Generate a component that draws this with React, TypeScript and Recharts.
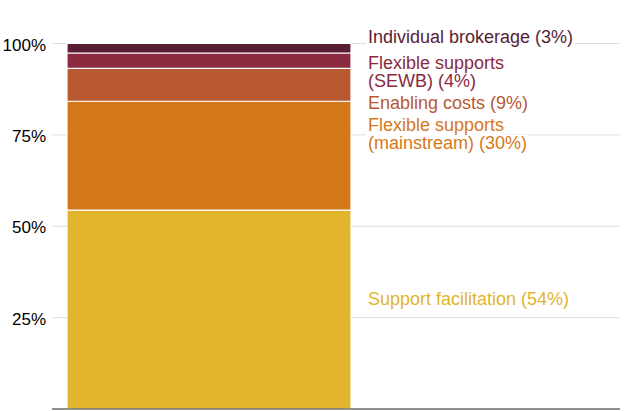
import React from 'react';
import { BarChart, Bar, XAxis, YAxis, CartesianGrid, LabelList } from 'recharts';

const categories = ['Funding'];
const supportFacilitation = [54.4];
const flexibleMainstream = [29.8];
const enablingCosts = [9.0];
const flexibleSewb = [4.2];
const individualBrokerage = [2.6];
const yTicks = [25, 50, 75, 100];

const seriesKeys = ['support', 'mainstream', 'enabling', 'sewb', 'brokerage'];
const seriesColors = ['#E2B52C', '#D5781B', '#B85932', '#8B2A3F', '#561D35'];
const seriesLabels = [
  ['Support facilitation (54%)'],
  ['Flexible supports', '(mainstream) (30%)'],
  ['Enabling costs (9%)'],
  ['Flexible supports', '(SEWB) (4%)'],
  ['Individual brokerage (3%)'],
];
// baseline offset of first label line relative to segment centre
const labelOffsets = [-5, -24.5, 24, 8.5, -5];

const data = categories.map((name, i) => ({
  name,
  support: supportFacilitation[i],
  mainstream: flexibleMainstream[i],
  enabling: enablingCosts[i],
  sewb: flexibleSewb[i],
  brokerage: individualBrokerage[i],
}));

const FONT = '"Liberation Sans", Arial, Helvetica, sans-serif';
const LABEL_SIZE = 18;
const LINE_H = 17.5;

let ctx: CanvasRenderingContext2D | null = null;
function measure(t: string): number {
  if (!ctx) {
    ctx = document.createElement('canvas').getContext('2d');
  }
  if (!ctx) return t.length * 9;
  ctx.font = `${LABEL_SIZE}px "Liberation Sans", Arial, sans-serif`;
  return ctx.measureText(t).width;
}

function makeLabel(idx: number) {
  return (props: any) => {
    const { x, y, width, height } = props;
    const tx = Number(x) + Number(width) + 17;
    const base = Number(y) + Number(height) / 2 + labelOffsets[idx];
    const lines = seriesLabels[idx];
    return (
      <g>
        {lines.map((l, j) => (
          <rect
            key={'r' + j}
            x={tx - 2}
            y={base + j * LINE_H - 14}
            width={measure(l) + 4}
            height={19}
            fill="#fff"
          />
        ))}
        <text
          x={tx}
          y={base}
          fill={seriesColors[idx]}
          fontSize={LABEL_SIZE}
          fontFamily={FONT}
        >
          {lines.map((l, j) => (
            <tspan key={j} x={tx} dy={j === 0 ? 0 : LINE_H}>
              {l}
            </tspan>
          ))}
        </text>
      </g>
    );
  };
}

export default function App() {
  return (
    <div style={{ width: 628, height: 411 }}>
      <style>{`body{margin:0}`}</style>
      <BarChart
        width={628}
        height={411}
        data={data}
        margin={{ top: 43.5, right: 8, bottom: 0, left: 0 }}
        barCategoryGap={0}
      >
        <CartesianGrid vertical={false} stroke="#dddddd" strokeWidth={1} />
        <XAxis
          dataKey="name"
          tick={false}
          tickLine={false}
          height={2}
          axisLine={{ stroke: '#333333', strokeWidth: 1 }}
          padding={{ left: 15, right: 269 }}
        />
        <YAxis
          domain={[0, 100]}
          ticks={yTicks}
          width={52}
          axisLine={false}
          tickLine={false}
          tickMargin={0}
          tickFormatter={(v: number) => `${v}%`}
          tick={{ fill: '#000000', fontSize: 17, fontFamily: FONT, dy: 1 }}
        />
        {seriesKeys.map((k, i) => (
          <Bar
            key={k}
            dataKey={k}
            stackId="a"
            fill={seriesColors[i]}
            stroke="#ffffff"
            strokeWidth={1.2}
            isAnimationActive={false}
          >
            <LabelList dataKey={k} content={makeLabel(i)} />
          </Bar>
        ))}
      </BarChart>
    </div>
  );
}
